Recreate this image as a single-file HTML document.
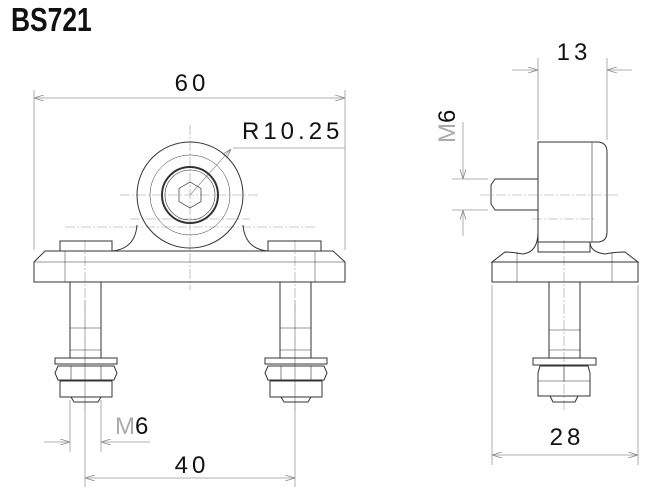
<!DOCTYPE html>
<html><head><meta charset="utf-8"><style>
html,body{margin:0;padding:0;background:#fff;width:672px;height:487px;overflow:hidden}
svg{display:block}
text{font-family:"Liberation Sans",sans-serif;fill:#111}
</style></head><body>
<svg width="672" height="487" viewBox="0 0 672 487" xmlns="http://www.w3.org/2000/svg">
<defs>
<marker id="a" viewBox="0 0 10 6" refX="10" refY="3" markerWidth="10" markerHeight="6" orient="auto-start-reverse" markerUnits="userSpaceOnUse"><path d="M0,0 L10,3 L0,6" fill="none" stroke="#888" stroke-width="0.8"/></marker>
</defs>
<text x="11" y="31" font-size="33" font-weight="bold" transform="translate(11 0) scale(0.8 1) translate(-11 0)" style="font-family:'Liberation Sans Narrow','Liberation Sans',sans-serif">BS721</text>

<g stroke="#999" stroke-width="0.8" fill="none">
<line x1="34" y1="90" x2="34" y2="250"/><line x1="345" y1="90" x2="345" y2="250"/>
<line x1="34" y1="98" x2="345" y2="98" marker-start="url(#a)" marker-end="url(#a)"/>
<line x1="85" y1="300" x2="85" y2="487"/><line x1="295" y1="300" x2="295" y2="487"/>
<line x1="85" y1="478" x2="295" y2="478" marker-start="url(#a)" marker-end="url(#a)"/>
<line x1="70" y1="400" x2="70" y2="452"/><line x1="101" y1="400" x2="101" y2="452"/>
<line x1="44" y1="442" x2="70" y2="442" marker-end="url(#a)"/>
<line x1="150" y1="442" x2="101" y2="442" marker-end="url(#a)"/>
<line x1="345" y1="148" x2="233" y2="148"/>
<line x1="190" y1="195" x2="231" y2="149" marker-end="url(#a)"/>
<line x1="538" y1="58" x2="538" y2="140"/><line x1="607" y1="58" x2="607" y2="140"/>
<line x1="512" y1="70" x2="538" y2="70" marker-end="url(#a)"/>
<line x1="632" y1="70" x2="607" y2="70" marker-end="url(#a)"/>
<line x1="452" y1="179" x2="488" y2="179"/><line x1="452" y1="210" x2="488" y2="210"/>
<line x1="463" y1="122" x2="463" y2="179" marker-end="url(#a)"/>
<line x1="463" y1="236" x2="463" y2="210" marker-end="url(#a)"/>
<line x1="492" y1="285" x2="492" y2="465"/><line x1="638" y1="285" x2="638" y2="465"/>
<line x1="492" y1="455" x2="638" y2="455" marker-start="url(#a)" marker-end="url(#a)"/>
</g>

<g stroke="#999" stroke-width="0.6" stroke-dasharray="10,2,2,2" fill="none">
<line x1="190" y1="125" x2="190" y2="290"/>
<line x1="120" y1="195" x2="260" y2="195"/>
<line x1="130" y1="219" x2="250" y2="219"/>
<line x1="65" y1="227" x2="315" y2="227"/>
<line x1="85" y1="240" x2="85" y2="410"/>
<line x1="295" y1="240" x2="295" y2="410"/>
<line x1="480" y1="195" x2="618" y2="195"/>
<line x1="532" y1="219" x2="596" y2="219"/>
<line x1="564" y1="240" x2="564" y2="410"/>
</g>

<g stroke="#333" stroke-width="1" fill="none">
<path d="M45,251 L333,251 L345,262 L345,282 L34,282 L34,262 Z"/>
<line x1="34" y1="262" x2="345" y2="262" stroke-width="0.5"/>
<line x1="65" y1="251" x2="65" y2="282" stroke-width="0.5"/>
<line x1="315" y1="251" x2="315" y2="282" stroke-width="0.5"/>
<rect x="60" y="241" width="52" height="10"/>
<rect x="268" y="241" width="53" height="10"/>
<path d="M137,225 Q135,249 112,251"/>
<path d="M243,225 Q245,249 268,251"/>
<circle cx="190" cy="195" r="53"/>
<circle cx="190" cy="195" r="40" stroke-width="0.5"/>
<circle cx="190" cy="195" r="28" stroke-width="2"/>
<circle cx="190" cy="195" r="25" stroke-width="0.6"/>
<polygon points="190,182 201,188.5 201,201.5 190,208 179,201.5 179,188.5" stroke-width="0.7"/>
<g id="b">
<rect x="70" y="282" width="31" height="76"/>
<line x1="70" y1="328" x2="101" y2="328" stroke-width="0.6"/>
<line x1="70" y1="350" x2="101" y2="350" stroke-width="0.6"/>
<rect x="55" y="358" width="62" height="6"/>
<path d="M58,366 L114,366 L117,373 L114,380 L58,380 L55,373 Z"/>
<line x1="71" y1="366" x2="71" y2="380" stroke-width="0.6"/><line x1="101" y1="366" x2="101" y2="380" stroke-width="0.6"/>
<path d="M60,381 L112,381 L112,397 L60,397 Z"/>
<path d="M71,397 L101,397 L98,402 L74,402 Z"/>
</g>
<use href="#b" x="210"/>

<path d="M538,142 L597,142 Q607,142 607,152 L607,232 Q607,242 597,242 L538,242 Z"/>
<line x1="592" y1="142" x2="592" y2="242" stroke-width="0.6"/>
<path d="M538,179 L495,179 L491,185 L491,204 L495,210 L538,210"/>
<rect x="538" y="242" width="52" height="10"/>
<path d="M538,232 Q538,252 523,254 Q512,252 505,252 L492,262 L638,262 L625,252 Q615,252 605,254 Q590,252 590,242"/>
<rect x="492" y="262" width="146" height="20"/>
<line x1="517" y1="252" x2="517" y2="282" stroke-width="0.5"/>
<line x1="612" y1="252" x2="612" y2="282" stroke-width="0.5"/>
<rect x="549" y="282" width="31" height="76"/>
<line x1="549" y1="330" x2="580" y2="330" stroke-width="0.6"/>
<line x1="549" y1="350" x2="580" y2="350" stroke-width="0.6"/>
<rect x="533" y="358" width="63" height="7"/>
<path d="M540,366 L588,366 L590,373 L590,396 L538,396 L538,373 Z"/>
<line x1="538" y1="381" x2="590" y2="381" stroke-width="0.6"/>
<line x1="564" y1="366" x2="564" y2="381" stroke-width="0.6"/>
<path d="M550,396 L578,396 L575,402 L553,402 Z"/>
</g>

<g font-size="24" letter-spacing="4">
<text x="192" y="91" text-anchor="middle">60</text>
<text x="242" y="139">R10.25</text>
<text x="192" y="473" text-anchor="middle">40</text>
<text x="574" y="60" text-anchor="middle">13</text>
<text x="567" y="445" text-anchor="middle">28</text>
</g>
<text x="115" y="434" font-size="24"><tspan fill="#aaa">M</tspan>6</text>
<text transform="translate(455 143) rotate(-90)" font-size="24"><tspan fill="#aaa">M</tspan>6</text>
</svg>
</body></html>
